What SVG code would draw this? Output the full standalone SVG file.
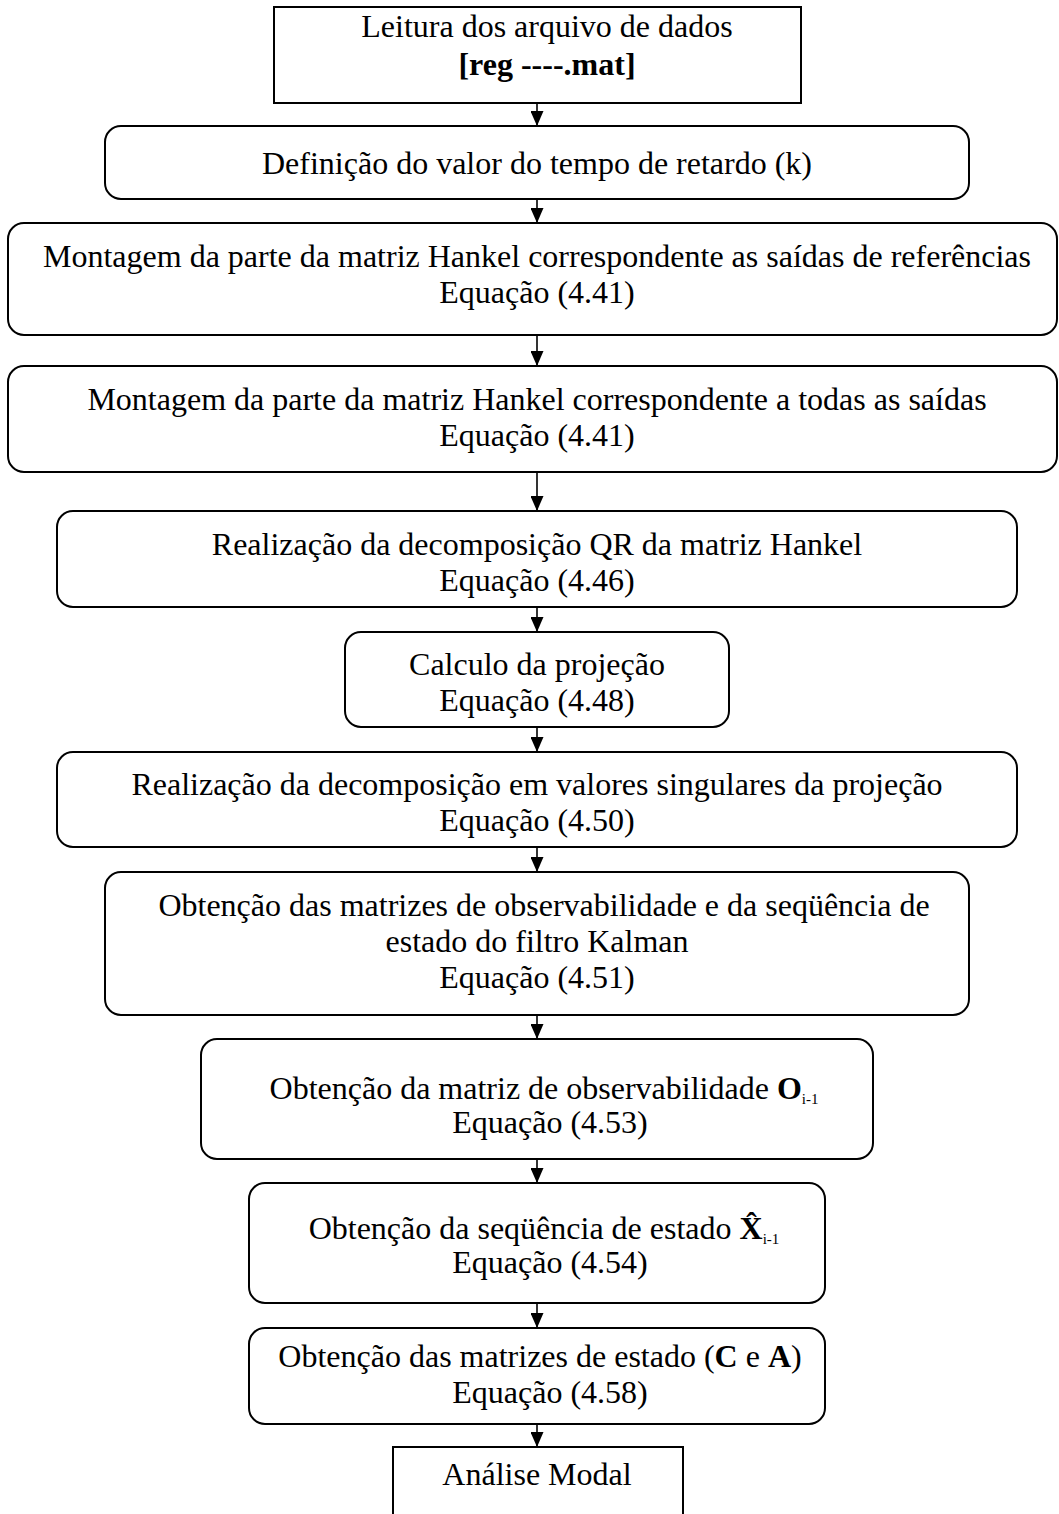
<svg xmlns="http://www.w3.org/2000/svg" width="1059" height="1514" viewBox="0 0 1059 1514">
<style>
.b{fill:#fff;stroke:#000;stroke-width:2}
.t{font-family:"Liberation Serif","Times New Roman",serif;font-size:32px;fill:#000;text-anchor:middle}
.bold{font-weight:bold}
.sub{font-size:15px}
.c{stroke:#000;stroke-width:1.6;fill:none}
</style>
<defs>
<marker id="ah" markerWidth="15" markerHeight="13" refX="15" refY="6.5" orient="auto" markerUnits="userSpaceOnUse" viewBox="0 0 15 13">
<path d="M0,0 L15,6.5 L0,13 Z" fill="#000"/>
</marker>
</defs>
<rect width="1059" height="1514" fill="#fff"/>
<g id="connectors">
<line class="c" x1="537" y1="103" x2="537" y2="126" marker-end="url(#ah)"/>
<line class="c" x1="537" y1="199" x2="537" y2="223" marker-end="url(#ah)"/>
<line class="c" x1="537" y1="335" x2="537" y2="366" marker-end="url(#ah)"/>
<line class="c" x1="537" y1="472" x2="537" y2="511" marker-end="url(#ah)"/>
<line class="c" x1="537" y1="607" x2="537" y2="632" marker-end="url(#ah)"/>
<line class="c" x1="537" y1="727" x2="537" y2="752" marker-end="url(#ah)"/>
<line class="c" x1="537" y1="847" x2="537" y2="872" marker-end="url(#ah)"/>
<line class="c" x1="537" y1="1015" x2="537" y2="1039" marker-end="url(#ah)"/>
<line class="c" x1="537" y1="1159" x2="537" y2="1183" marker-end="url(#ah)"/>
<line class="c" x1="537" y1="1303" x2="537" y2="1328" marker-end="url(#ah)"/>
<line class="c" x1="537" y1="1424" x2="537" y2="1447" marker-end="url(#ah)"/>
</g>
<g id="n1">
<rect class="b" x="274" y="7" width="527" height="96"/>
<text class="t" x="547" y="37">Leitura dos arquivo de dados</text>
<text class="t bold" x="547" y="75">[reg ----.mat]</text>
</g>
<g id="n2">
<rect class="b" x="105" y="126" width="864" height="73" rx="16"/>
<text class="t" x="537" y="174">Definição do valor do tempo de retardo (k)</text>
</g>
<g id="n3">
<rect class="b" x="8" y="223" width="1049" height="112" rx="16"/>
<text class="t" x="537" y="267">Montagem da parte da matriz Hankel correspondente as saídas de referências</text>
<text class="t" x="537" y="303">Equação (4.41)</text>
</g>
<g id="n4">
<rect class="b" x="8" y="366" width="1049" height="106" rx="16"/>
<text class="t" x="537" y="410">Montagem da parte da matriz Hankel correspondente a todas as saídas</text>
<text class="t" x="537" y="446">Equação (4.41)</text>
</g>
<g id="n5">
<rect class="b" x="57" y="511" width="960" height="96" rx="16"/>
<text class="t" x="537" y="555">Realização da decomposição QR da matriz Hankel</text>
<text class="t" x="537" y="591">Equação (4.46)</text>
</g>
<g id="n6">
<rect class="b" x="345" y="632" width="384" height="95" rx="16"/>
<text class="t" x="537" y="675">Calculo da projeção</text>
<text class="t" x="537" y="711">Equação (4.48)</text>
</g>
<g id="n7">
<rect class="b" x="57" y="752" width="960" height="95" rx="16"/>
<text class="t" x="537" y="795">Realização da decomposição em valores singulares da projeção</text>
<text class="t" x="537" y="831">Equação (4.50)</text>
</g>
<g id="n8">
<rect class="b" x="105" y="872" width="864" height="143" rx="16"/>
<text class="t" x="544" y="916">Obtenção das matrizes de observabilidade e da seqüência de</text>
<text class="t" x="537" y="952">estado do filtro Kalman</text>
<text class="t" x="537" y="988">Equação (4.51)</text>
</g>
<g id="n9">
<rect class="b" x="201" y="1039" width="672" height="120" rx="16"/>
<text class="t" x="544" y="1099">Obtenção da matriz de observabilidade <tspan class="bold">O</tspan><tspan class="sub" dy="5">i-1</tspan></text>
<text class="t" x="550" y="1133">Equação (4.53)</text>
</g>
<g id="n10">
<rect class="b" x="249" y="1183" width="576" height="120" rx="16"/>
<text class="t" x="544" y="1239">Obtenção da seqüência de estado <tspan class="bold">X̂</tspan><tspan class="sub" dy="5">i-1</tspan></text>
<text class="t" x="550" y="1273">Equação (4.54)</text>
</g>
<g id="n11">
<rect class="b" x="249" y="1328" width="576" height="96" rx="16"/>
<text class="t" x="540" y="1367">Obtenção das matrizes de estado (<tspan class="bold">C</tspan> e <tspan class="bold">A</tspan>)</text>
<text class="t" x="550" y="1403">Equação (4.58)</text>
</g>
<g id="n12">
<rect class="b" x="393" y="1447" width="290" height="80"/>
<text class="t" x="537" y="1485">Análise Modal</text>
</g>
</svg>
